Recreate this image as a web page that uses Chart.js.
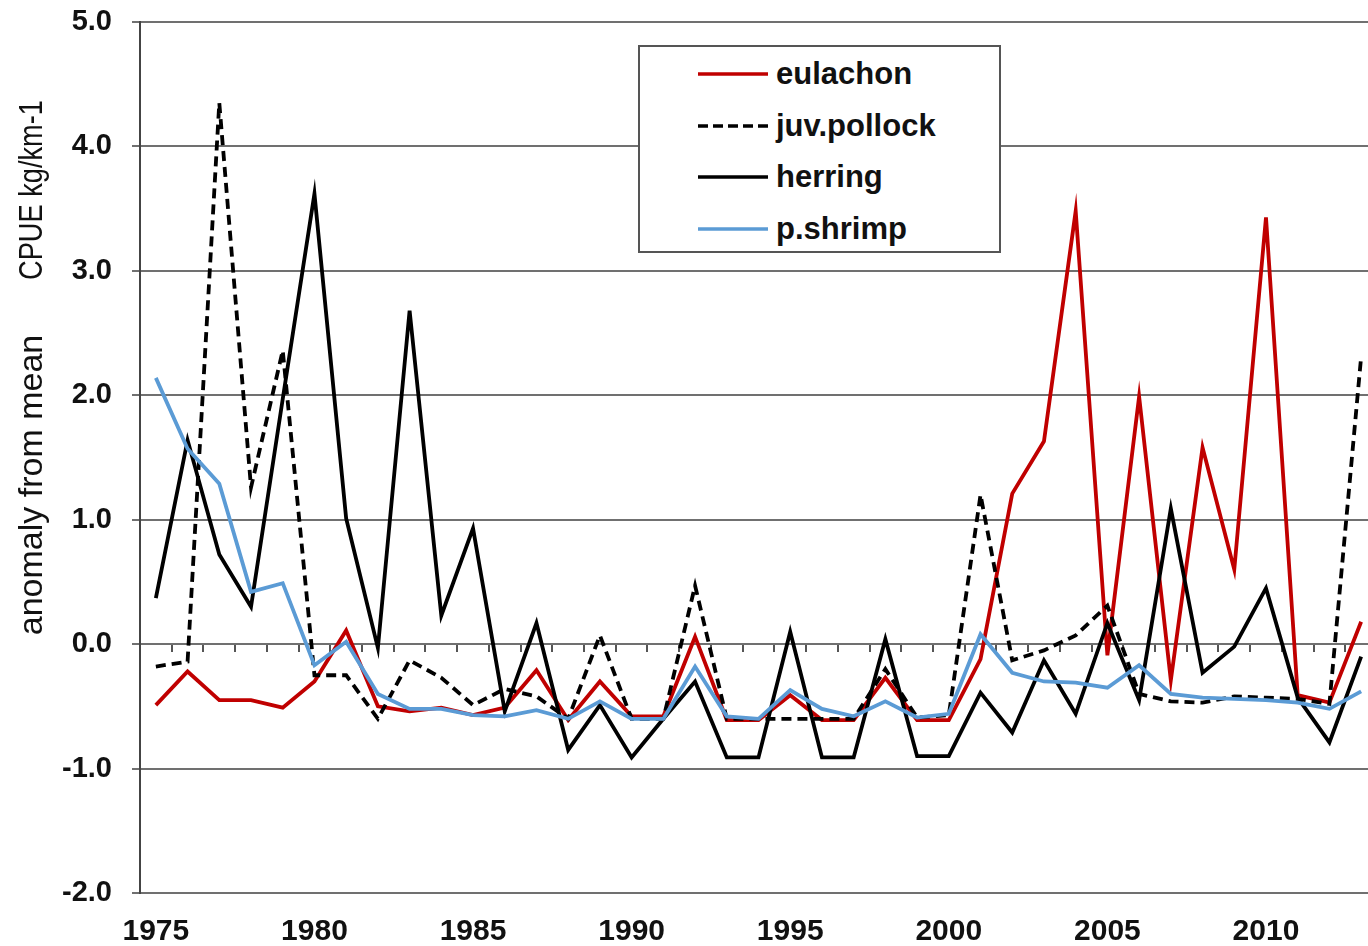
<!DOCTYPE html>
<html>
<head>
<meta charset="utf-8">
<script src="https://cdn.jsdelivr.net/npm/chart.js@4/dist/chart.umd.min.js"></script>
<style>
  html, body { margin: 0; padding: 0; background: #fff; overflow: hidden; }
  #wrap { position: absolute; left: 0; top: 0; width: 1377px; height: 946px; }
  .ytitle {
    position: absolute; white-space: nowrap; color: #111;
    font-family: 'Liberation Sans', Arial, sans-serif; line-height: 34px; font-size: 34px;
  }
  #legend {
    position: absolute; left: 638px; top: 45px; width: 359px; height: 203px;
    border: 2px solid #555; background: #fff; padding-top: 1px; box-sizing: content-box;
  }
  .lrow { height: 51.7px; display: flex; align-items: center; }
  .lrow svg { margin-left: 58px; margin-right: 8px; }
  .lrow span { font: bold 31px 'Liberation Sans', Arial, sans-serif; color: #111; }
</style>
</head>
<body>
<div id="wrap"><canvas id="lineChart"></canvas></div>
<div class="ytitle" id="t1">anomaly from mean</div>
<div class="ytitle" id="t2">CPUE kg/km-1</div>
<div id="legend"></div>
<script>
// years on the category axis, and the years that get a label
var years = [];
for (var y = 1975; y <= 2013; y++) years.push(String(y));
var yearLabels = ['1975', '1980', '1985', '1990', '1995', '2000', '2005', '2010'];

// anomaly from mean
var eulachon = [-0.49, -0.22, -0.45, -0.45, -0.51, -0.30, 0.11, -0.50, -0.54, -0.51,
  -0.57, -0.51, -0.21, -0.61, -0.30, -0.58, -0.58, 0.06, -0.61, -0.61,
  -0.41, -0.61, -0.61, -0.27, -0.61, -0.61, -0.12, 1.21, 1.63, 3.48,
  -0.09, 1.99, -0.29, 1.58, 0.60, 3.43, -0.41, -0.47, 0.18];
var juvPollock = [-0.18, -0.14, 4.35, 1.26, 2.36, -0.25, -0.25, -0.60, -0.13, -0.27,
  -0.49, -0.36, -0.42, -0.60, 0.07, -0.60, -0.60, 0.47, -0.60, -0.60,
  -0.60, -0.60, -0.60, -0.20, -0.59, -0.57, 1.20, -0.13, -0.05, 0.07,
  0.31, -0.40, -0.46, -0.47, -0.42, -0.43, -0.44, -0.48, 2.31];
var herring = [0.37, 1.64, 0.72, 0.30, 1.97, 3.62, 1.01, -0.03, 2.68, 0.23,
  0.93, -0.54, 0.17, -0.85, -0.49, -0.91, -0.60, -0.30, -0.91, -0.91,
  0.10, -0.91, -0.91, 0.04, -0.90, -0.90, -0.39, -0.71, -0.13, -0.56,
  0.17, -0.45, 1.09, -0.23, -0.02, 0.45, -0.43, -0.79, -0.10];
var pShrimp = [2.14, 1.57, 1.29, 0.42, 0.49, -0.17, 0.02, -0.40, -0.52, -0.52,
  -0.57, -0.58, -0.53, -0.60, -0.46, -0.60, -0.60, -0.18, -0.58, -0.60,
  -0.37, -0.52, -0.58, -0.46, -0.59, -0.56, 0.08, -0.23, -0.30, -0.31,
  -0.35, -0.17, -0.40, -0.43, -0.44, -0.45, -0.47, -0.52, -0.38];

var gridColor = '#707070';

var datasets = [
  { label: 'eulachon', data: eulachon, borderColor: '#c00000', order: 4 },
  { label: 'juv.pollock', data: juvPollock, borderColor: '#000', borderDash: [10, 6], order: 3 },
  { label: 'herring', data: herring, borderColor: '#000', order: 2 },
  { label: 'p.shrimp', data: pShrimp, borderColor: '#5b9bd5', order: 1 }
];
datasets.forEach(function (d) {
  d.borderWidth = 3.8;
  d.pointRadius = 0;
  d.tension = 0;
  d.fill = false;
});

var canvas = document.getElementById('lineChart');
var chart = new Chart(canvas, {
  type: 'line',
  data: { labels: years, datasets: datasets },
  options: {
    responsive: true,
    maintainAspectRatio: false,
    animation: false,
    devicePixelRatio: 1,
    layout: { padding: { top: 22, right: 0, bottom: 0, left: 0 } },
    plugins: { legend: { display: false }, tooltip: { enabled: false } },
    scales: {
      x: {
        type: 'category',
        offset: true,
        afterFit: function (scale) { scale.height = 53; },
        grid: { display: false },
        border: { display: false },
        ticks: {
          autoSkip: false,
          maxRotation: 0,
          padding: 13,
          color: '#111',
          font: { family: "'Liberation Sans', Arial, sans-serif", size: 30, weight: 'bold' },
          callback: function (value) {
            var lab = this.getLabelForValue(value);
            return yearLabels.indexOf(lab) >= 0 ? lab : '';
          }
        }
      },
      // tick marks along the zero line
      x0: {
        type: 'category',
        position: { y: 0 },
        offset: true,
        afterFit: function (scale) { scale.height = 0; },
        grid: { offset: true, drawOnChartArea: false, drawTicks: true, tickLength: 8, color: '#555', lineWidth: 2 },
        border: { display: false },
        ticks: { display: false }
      },
      y: {
        min: -2,
        max: 5,
        afterFit: function (scale) {
          scale.width = 140;
          scale.paddingTop = 0;
          scale.paddingBottom = 0;
        },
        grid: { color: gridColor, lineWidth: 2, tickLength: 8 },
        border: { color: '#444', width: 2 },
        ticks: {
          stepSize: 1,
          padding: 20,
          color: '#111',
          font: { family: "'Liberation Sans', Arial, sans-serif", size: 29, weight: 'bold' },
          callback: function (v) { return v.toFixed(1); }
        }
      }
    }
  }
});

// legend box
var legend = document.getElementById('legend');
datasets.forEach(function (d) {
  var row = document.createElement('div');
  row.className = 'lrow';
  var dash = d.borderDash ? ' stroke-dasharray="10 5"' : '';
  row.innerHTML = '<svg width="70" height="6"><line x1="0" y1="3" x2="70" y2="3" stroke="' +
    d.borderColor + '" stroke-width="3.5"' + dash + '/></svg><span>' + d.label + '</span>';
  legend.appendChild(row);
});

// rotated axis titles
function placeTitle(id, cx, cy, sx) {
  var el = document.getElementById(id);
  el.style.left = (cx - el.offsetWidth / 2) + 'px';
  el.style.top = (cy - el.offsetHeight / 2) + 'px';
  el.style.transform = 'rotate(-90deg) scaleX(' + sx + ')';
}
placeTitle('t1', 30, 485, 1);
placeTitle('t2', 30, 190, 0.8);
</script>
</body>
</html>
